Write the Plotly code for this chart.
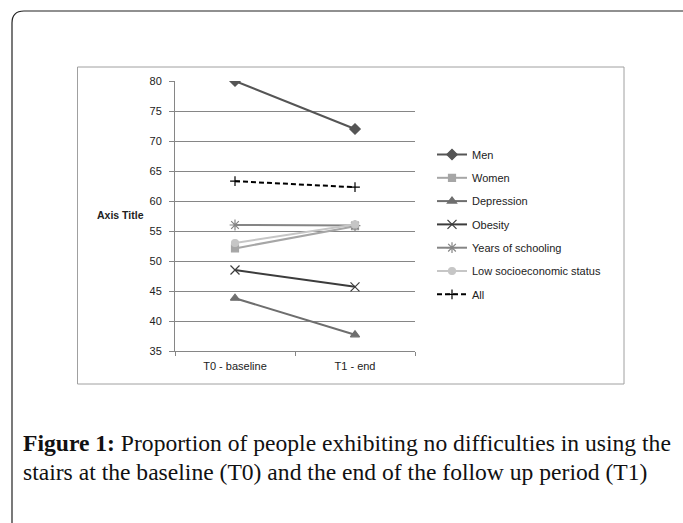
import plotly.graph_objects as go

categories = ["T0 - baseline", "T1 - end"]
series_names = ["Men", "Women", "Depression", "Obesity", "Years of schooling",
                "Low socioeconomic status", "All"]
men = [80.0, 72.0]
women = [52.1, 55.8]
depression = [43.8, 37.7]
obesity = [48.5, 45.7]
years_schooling = [56.0, 55.9]
low_ses = [53.0, 56.1]
all_people = [63.3, 62.3]
y_ticks = [35, 40, 45, 50, 55, 60, 65, 70, 75, 80]

values = [men, women, depression, obesity, years_schooling, low_ses, all_people]
colors = ["#555555", "#a6a6a6", "#6e6e6e", "#3c3c3c", "#858585", "#c6c6c6", "#000000"]
symbols = ["diamond", "square", "triangle-up", "x-thin-open", "asterisk-open", "circle", "cross-thin-open"]
msizes = [8, 7, 8, 9, 9, 7, 7]
dashes = ["solid"] * 6 + ["5px,3px"]

W, H = 683, 523
L, T, PW, PH = 175, 81, 240, 270


def px(x):
    return (x - L) / PW


def py(y):
    return (T + PH - y) / PH


fig = go.Figure()
for name, v, c, s, ms, d in zip(series_names, values, colors, symbols, msizes, dashes):
    fig.add_trace(go.Scatter(
        x=categories, y=v, name=name, mode="lines+markers", legendgroup=name,
        line=dict(color=c, width=2, dash=d),
        marker=dict(symbol=s, size=ms, color=c, line=dict(color=c, width=1.2)),
    ))

# outer rounded box
r = 12
x0, x1, y0, y1 = 12, 700, 11, 540
path = (f"M {px(x0)},{py(y0 + r)} L {px(x0)},{py(y1)} L {px(x1)},{py(y1)} L {px(x1)},{py(y0)} "
        f"L {px(x0 + r)},{py(y0)} Q {px(x0)},{py(y0)} {px(x0)},{py(y0 + r)}")
shapes = [
    dict(type="path", xref="paper", yref="paper", path=path,
         line=dict(color="#222222", width=1.2)),
    dict(type="rect", xref="paper", yref="paper",
         x0=px(77.5), x1=px(624), y0=py(384), y1=py(67),
         line=dict(color="#a0a0a0", width=1)),
]

annotations = [
    dict(text="<b>Axis Title</b>", xref="paper", yref="paper", x=px(120), y=py(215),
         showarrow=False, font=dict(family="Liberation Sans", size=10.5, color="#222222"),
         xanchor="center", yanchor="middle"),
    dict(text="<b>Figure 1:</b> Proportion of people exhibiting no difficulties in using the",
         xref="paper", yref="paper", x=px(21), y=py(443), showarrow=False,
         font=dict(family="Liberation Serif", size=23.6, color="#111111"),
         xanchor="left", yanchor="middle"),
    dict(text="stairs at the baseline (T0) and the end of the follow up period (T1)",
         xref="paper", yref="paper", x=px(21), y=py(472), showarrow=False,
         font=dict(family="Liberation Serif", size=23.6, color="#111111"),
         xanchor="left", yanchor="middle"),
]

fig.update_layout(
    width=W, height=H,
    margin=dict(l=L, r=W - L - PW, t=T, b=H - T - PH, pad=0),
    paper_bgcolor="white", plot_bgcolor="white",
    shapes=shapes, annotations=annotations,
    font=dict(family="Liberation Sans", size=11, color="#222222"),
    legend=dict(x=px(432), y=py(140), xanchor="left", yanchor="top",
                font=dict(family="Liberation Sans", size=11, color="#222222"),
                bgcolor="rgba(0,0,0,0)", tracegroupgap=4.3, traceorder="grouped",
                itemwidth=30),
    showlegend=True,
)
fig.update_xaxes(type="category", range=[-0.5, 1.5], showgrid=False,
                 showline=True, linecolor="#868686", linewidth=1,
                 ticks="outside", tickson="boundaries", ticklen=4, tickcolor="#868686",
                 ticklabelstandoff=5, fixedrange=True)
fig.update_yaxes(range=[35, 80], tickvals=y_ticks, showgrid=True, gridcolor="#868686",
                 gridwidth=1, showline=True, linecolor="#868686", linewidth=1,
                 ticks="outside", ticklen=5, tickcolor="#868686", zeroline=False,
                 ticklabelstandoff=5, fixedrange=True)

fig.write_html("out.html", config={"displayModeBar": False},
               post_script="document.body.style.margin='0';")
